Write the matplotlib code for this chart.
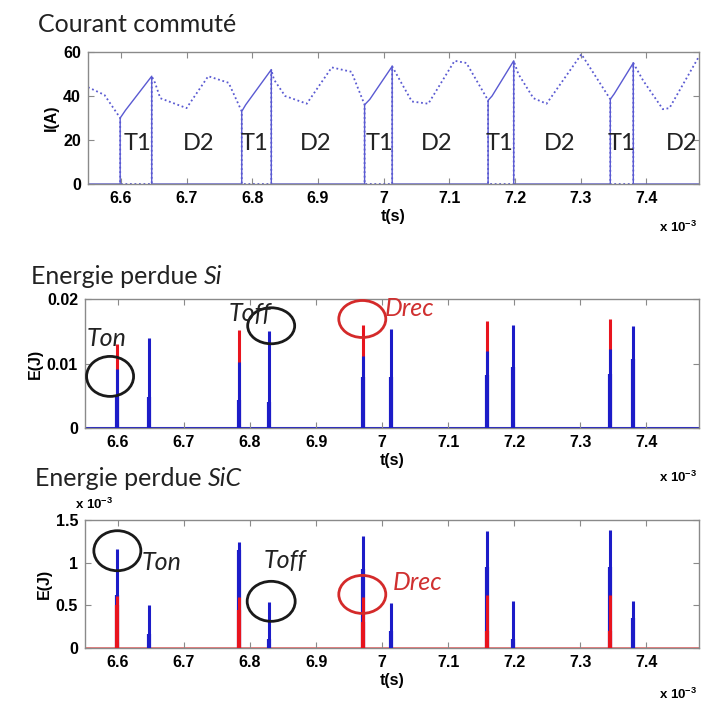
import matplotlib
matplotlib.use('Agg')
import matplotlib.pyplot as plt
from matplotlib.patches import Ellipse
import numpy as np

# ---------------- data (time in ms, shown with x 10^-3 factor) ----------------
xlim = (6.55, 7.48)
xticks = [6.6, 6.7, 6.8, 6.9, 7.0, 7.1, 7.2, 7.3, 7.4]
xticklabels = ['6.6', '6.7', '6.8', '6.9', '7', '7.1', '7.2', '7.3', '7.4']

# switched current: T1 (solid) and D2 (dotted)
t_T1 = [6.55, 6.599, 6.599, 6.607, 6.647, 6.647,
        6.784, 6.784, 6.790, 6.829, 6.829,
        6.971, 6.971, 6.979, 7.013, 7.013,
        7.159, 7.159, 7.165, 7.198, 7.198,
        7.345, 7.345, 7.351, 7.380, 7.380, 7.48]
i_T1 = [0, 0, 30, 33.5, 49, 0,
        0, 33, 36, 52, 0,
        0, 36, 38.5, 53.5, 0,
        0, 38, 40, 56, 0,
        0, 38.5, 41, 55, 0, 0]

t_D2 = [6.55, 6.575, 6.599, 6.599, 6.647, 6.647, 6.652, 6.660, 6.700, 6.733, 6.764, 6.784, 6.784,
        6.829, 6.829, 6.833, 6.850, 6.883, 6.921, 6.951, 6.971, 6.971,
        7.013, 7.013, 7.025, 7.043, 7.068, 7.108, 7.126, 7.159, 7.159,
        7.198, 7.198, 7.205, 7.228, 7.248, 7.301, 7.345, 7.345,
        7.380, 7.380, 7.395, 7.425, 7.435, 7.48]
i_D2 = [44, 40.5, 30, 0, 0, 49, 46, 39, 34.5, 49, 46, 33, 0,
        0, 52, 47.5, 40, 36.5, 53, 51, 36, 0,
        0, 53.5, 47, 37.5, 36.5, 56, 55, 38, 0,
        0, 56, 50, 39, 36.5, 59, 38.5, 0,
        0, 55, 47, 34, 34.5, 58]

phase_labels = ['T1', 'D2', 'T1', 'D2', 'T1', 'D2', 'T1', 'D2', 'T1', 'D2']
phase_t = [6.625, 6.719, 6.804, 6.896, 6.993, 7.081, 7.177, 7.268, 7.362, 7.453]

# switching instants
t_on = [6.599, 6.784, 6.971, 7.159, 7.345]
t_off = [6.647, 6.829, 7.013, 7.198, 7.380]

# Si energies (J)
si_drec = [0.0131, 0.0152, 0.0160, 0.0166, 0.0169]
si_ton = [0.0092, 0.0103, 0.0112, 0.0120, 0.0123]
si_ton_base = [0.0048, 0.0043, 0.0079, 0.0082, 0.0083]
si_toff = [0.0140, 0.0150, 0.0153, 0.0160, 0.0158]
si_toff_base = [0.0048, 0.0040, 0.0079, 0.0095, 0.0107]

# SiC energies (x 1e-3 J)
sic_ton = [1.16, 1.24, 1.31, 1.37, 1.38]
sic_ton_base = [0.62, 1.15, 0.93, 0.95, 0.95]
sic_drec = [0.61, 0.60, 0.60, 0.62, 0.62]
sic_drec_base = [0.50, 0.45, 0.30, 0.20, 0.20]
sic_toff = [0.50, 0.54, 0.53, 0.55, 0.55]
sic_toff_base = [0.16, 0.10, 0.20, 0.10, 0.35]

# ---------------- style ----------------
plt.rcParams['font.family'] = ['Liberation Sans', 'DejaVu Sans']
plt.rcParams['mathtext.default'] = 'regular'
TFONT = ['Lato', 'DejaVu Sans']
BLUE_L = '#5a5ad2'
BLUE = '#1c1cc8'
RED = '#e8141e'
GRAY = '#8a8a8a'

fig = plt.figure(figsize=(7.03, 7.04), dpi=100)
W, H = 703.0, 704.0

def ax_rect(l, r, t, b):
    return [l / W, 1 - b / H, (r - l) / W, (b - t) / H]

ax1 = fig.add_axes(ax_rect(88, 699, 52, 184))
ax2 = fig.add_axes(ax_rect(85, 699, 299, 428))
ax3 = fig.add_axes(ax_rect(85, 699, 520, 648))

def style(ax):
    ax.set_xlim(*xlim)
    ax.set_xticks(xticks)
    ax.set_xticklabels(xticklabels)
    ax.tick_params(direction='in', top=True, right=True, length=4, width=0.8,
                   color=GRAY, labelsize=11.5, pad=5)
    for lbl in ax.get_xticklabels() + ax.get_yticklabels():
        lbl.set_fontweight('bold')
    for s in ax.spines.values():
        s.set_color(GRAY)
        s.set_linewidth(1.0)
    ax.set_xlabel('t(s)', fontsize=11.5, fontweight='bold', labelpad=2)

# ---- top: current ----
ax1.plot(t_D2, i_D2, color=BLUE_L, lw=1.3, ls=(0, (1, 1.5)))
ax1.plot(t_T1, i_T1, color=BLUE_L, lw=1.0)
ax1.set_ylim(0, 60)
ax1.set_yticks([0, 20, 40, 60])
style(ax1)
ax1.set_ylabel('I(A)', fontsize=11.5, fontweight='bold', labelpad=3)
for lab, t in zip(phase_labels, phase_t):
    ax1.text(t, 18.6, lab, fontsize=17, family=TFONT, ha='center', va='center', color='#222222')

# ---- middle: Si ----
ax2.axhline(0, color=BLUE, lw=2.2, zorder=1)
ax2.vlines(t_on, 0, si_drec, color=RED, lw=2.2, zorder=2)
ax2.vlines(t_on, 0, si_ton, color=BLUE, lw=2.2, zorder=3)
ax2.vlines(t_on, 0, si_ton_base, color=BLUE, lw=3.0, zorder=3)
ax2.vlines(t_off, 0, si_toff, color=BLUE, lw=2.2, zorder=3)
ax2.vlines(t_off, 0, si_toff_base, color=BLUE, lw=3.0, zorder=3)
ax2.set_ylim(0, 0.02)
ax2.set_yticks([0, 0.01, 0.02])
ax2.set_yticklabels(['0', '0.01', '0.02'])
style(ax2)
ax2.set_ylabel('E(J)', fontsize=11.5, fontweight='bold', labelpad=3)

# ---- bottom: SiC ----
ax3.axhline(0, color='#f07070', lw=2.0, zorder=1)
ax3.vlines(t_on, 0, sic_ton, color=BLUE, lw=2.2, zorder=2)
ax3.vlines(t_on, 0, sic_ton_base, color=BLUE, lw=3.0, zorder=2)
ax3.vlines(t_on, 0, sic_drec, color=RED, lw=2.2, zorder=3)
ax3.vlines(t_on, 0, sic_drec_base, color=RED, lw=3.0, zorder=3)
ax3.vlines(t_off, 0, sic_toff, color=BLUE, lw=2.2, zorder=3)
ax3.vlines(t_off, 0, sic_toff_base, color=BLUE, lw=3.0, zorder=3)
ax3.set_ylim(0, 1.5)
ax3.set_yticks([0, 0.5, 1, 1.5])
ax3.set_yticklabels(['0', '0.5', '1', '1.5'])
style(ax3)
ax3.set_ylabel('E(J)', fontsize=11.5, fontweight='bold', labelpad=3)

# ---- annotations ----
def circ(ax, t, v, wpx, hpx, color, ymax):
    axw = ax.get_position().width * W
    axh = ax.get_position().height * H
    w = wpx / axw * (xlim[1] - xlim[0])
    h = hpx / axh * ymax
    ax.add_patch(Ellipse((t, v), w, h, fill=False, ec=color, lw=2.0, zorder=5, clip_on=False))

def note(ax, t, v, s, color):
    ax.text(t, v, s, fontsize=18, family=TFONT, style='italic', color=color,
            ha='left', va='center', zorder=6, clip_on=False)

circ(ax2, 6.588, 0.0080, 47, 40, '#1a1a1a', 0.02)
circ(ax2, 6.832, 0.01585, 47, 36, '#1a1a1a', 0.02)
circ(ax2, 6.970, 0.0169, 47, 37, '#d42a2a', 0.02)
note(ax2, 6.553, 0.0138, 'Ton', '#222222')
note(ax2, 6.767, 0.0178, 'Toff', '#222222')
note(ax2, 7.004, 0.0185, 'Drec', '#d03030')

circ(ax3, 6.599, 1.14, 47, 40, '#1a1a1a', 1.5)
circ(ax3, 6.832, 0.547, 48, 40, '#1a1a1a', 1.5)
circ(ax3, 6.970, 0.628, 47, 38, '#d42a2a', 1.5)
note(ax3, 6.6365, 1.0, 'Ton', '#222222')
note(ax3, 6.820, 1.02, 'Toff', '#222222')
note(ax3, 7.016, 0.767, 'Drec', '#d03030')

# ---- titles & factors ----
r = fig.canvas.get_renderer()

def title(x, y, main, ital=None):
    t = fig.text(x / W, 1 - y / H, main, fontsize=18, family=TFONT, ha='left', va='center', color='#222222')
    if ital:
        bb = t.get_window_extent(r)
        fig.text(bb.x1 / W + 6 / W, 1 - y / H, ital, fontsize=18, family=TFONT, style='italic',
                 ha='left', va='center', color='#222222')

title(38, 24, 'Courant commuté')
title(31, 276, 'Energie perdue', 'Si')
title(35, 479, 'Energie perdue', 'SiC')

for y in (227, 477, 694):
    fig.text(678 / W, 1 - y / H, 'x 10$^{-3}$', fontsize=9.5, fontweight='bold', ha='center', va='center')
fig.text(94 / W, 1 - 504 / H, 'x 10$^{-3}$', fontsize=9.5, fontweight='bold', ha='center', va='center')

fig.savefig('out.png', dpi=100)
